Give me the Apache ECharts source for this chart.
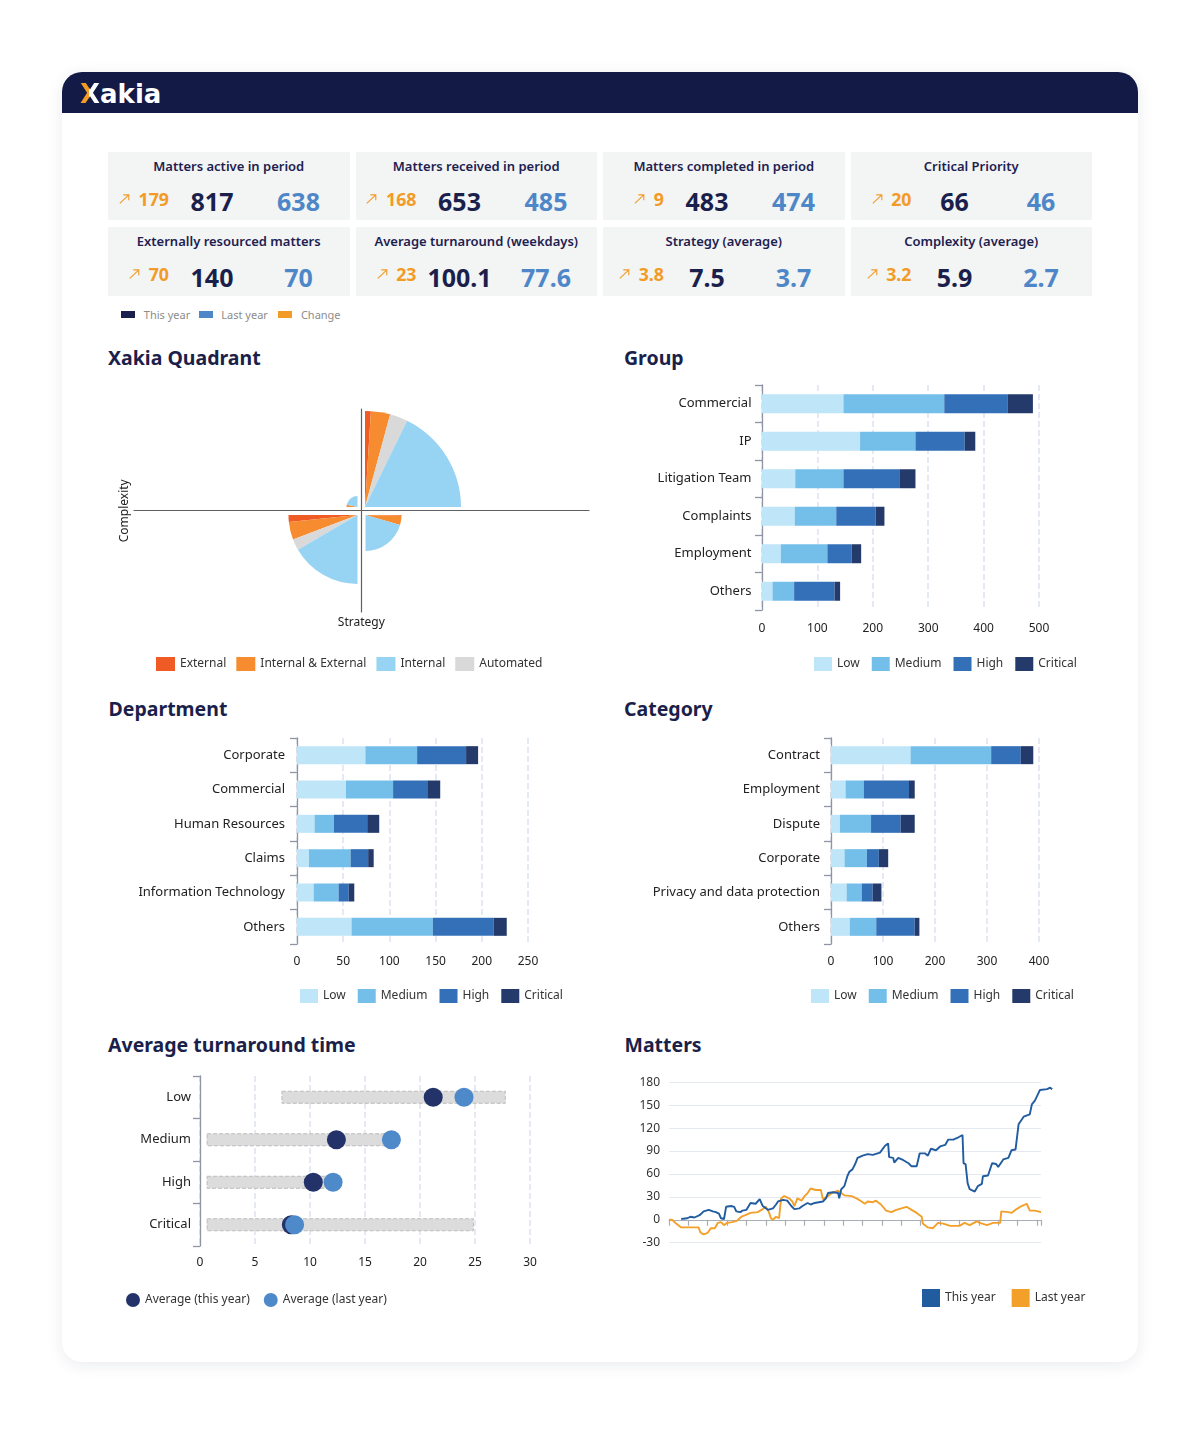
<!DOCTYPE html>
<html>
<head>
<meta charset="utf-8">
<title>Xakia dashboard</title>
<script src="https://cdn.jsdelivr.net/npm/echarts@6.0.0/dist/echarts.min.js"></script>
<style>
  html, body { margin:0; padding:0; background:#ffffff; }
  body { width:1200px; height:1436px; position:relative; overflow:hidden; font-family:'Noto Sans', sans-serif; }
  #card { position:absolute; left:62px; top:72px; width:1076px; height:1290px; background:#fff; border-radius:20px; box-shadow:0 3px 16px rgba(20,30,70,0.09); overflow:hidden; }
  #hdr { position:absolute; left:0; top:0; width:1076px; height:41px; background:#141a46; }
  #logo { position:absolute; left:18px; top:8.8px; font-family:'DejaVu Sans'; font-weight:bold; font-size:26px; line-height:26px; color:#fff; white-space:nowrap; }
  #logo .x { background:linear-gradient(90deg,#f39b22 0%,#f39b22 44%,#ffffff 44%); -webkit-background-clip:text; background-clip:text; color:transparent; }
  .kpi { position:absolute; width:241.5px; height:68.4px; background:#f3f4f4; }
  .kpi .t { position:absolute; left:0; top:8px; width:100%; text-align:center; font-size:13px; line-height:13px; font-weight:600; color:#1d2150; white-space:nowrap; }
  .kpi .c { position:absolute; right:180.5px; top:39.2px; display:flex; align-items:flex-start; }
  .kpi .c svg { margin-top:3px; margin-right:8.6px; }
  .kpi .c span { font-size:17.8px; line-height:17.8px; font-weight:700; color:#f29b26; white-space:nowrap; }
  .kpi .n { position:absolute; width:120px; top:37.8px; text-align:center; font-size:25px; line-height:25px; font-weight:700; white-space:nowrap; }
  .kpi .ty { left:44px; color:#1a1f4b; }
  .kpi .ly { left:130.5px; color:#4e87c8; }
  .klg { position:absolute; top:308px; height:13px; font-size:11px; line-height:13px; color:#8c8c8c; white-space:nowrap; }
  .klg i { position:absolute; left:0; top:3.3px; width:14px; height:7px; }
  .klg span { position:absolute; top:0; }
  .h { position:absolute; font-size:19.5px; line-height:19.5px; font-weight:700; color:#1b1f4a; white-space:nowrap; }
  #chart { position:absolute; left:0; top:0; width:1200px; height:1436px; }
</style>
</head>
<body>
<div id="card"><div id="hdr"><div id="logo"><span class="x">X</span>akia</div></div></div>
<div id="kpis"></div>
<div class="h" style="left:108px;top:347.7px;">Xakia Quadrant</div>
<div class="h" style="left:624px;top:347.7px;">Group</div>
<div class="h" style="left:108.5px;top:698.8px;">Department</div>
<div class="h" style="left:624px;top:698.8px;">Category</div>
<div class="h" style="left:108px;top:1035px;">Average turnaround time</div>
<div class="h" style="left:624.5px;top:1035px;">Matters</div>
<div id="chart"></div>
<script>
// ================= DATA =================
const kpiTitles = ['Matters active in period','Matters received in period','Matters completed in period','Critical Priority',
                   'Externally resourced matters','Average turnaround (weekdays)','Strategy (average)','Complexity (average)'];
const kpiChange   = ['179','168','9','20','70','23','3.8','3.2'];
const kpiThisYear = ['817','653','483','66','140','100.1','7.5','5.9'];
const kpiLastYear = ['638','485','474','46','70','77.6','3.7','2.7'];
const kpiLegend   = ['This year','Last year','Change'];

const quadLegend = ['External','Internal & External','Internal','Automated'];
const sliceOrder = ['External','Internal & External','Automated','Internal'];
const quadTopRight    = [15, 50, 46, 273];
const quadBottomRight = [2, 24, 0, 118];
const quadBottomLeft  = [18, 46, 29, 183];
const quadTopLeft     = [0, 6, 0, 38];

const priorityLevels = ['Low','Medium','High','Critical'];

const groupCats     = ['Commercial','IP','Litigation Team','Complaints','Employment','Others'];
const groupLow      = [147, 177, 60, 59, 34, 19];
const groupMedium   = [182, 100, 87, 75, 84, 39];
const groupHigh     = [114, 89, 102, 71, 44, 73];
const groupCritical = [46, 19, 28, 16, 17, 10];

const deptCats     = ['Corporate','Commercial','Human Resources','Claims','Information Technology','Others'];
const deptLow      = [74, 53, 19, 13, 18, 59];
const deptMedium   = [56, 51, 21, 45, 27, 88];
const deptHigh     = [53, 37, 36, 19, 11, 66];
const deptCritical = [13, 14, 13, 6, 6, 14];

const catCats     = ['Contract','Employment','Dispute','Corporate','Privacy and data protection','Others'];
const catLow      = [153, 28, 17, 26, 30, 36];
const catMedium   = [155, 35, 60, 43, 29, 51];
const catHigh     = [57, 87, 57, 23, 21, 74];
const catCritical = [24, 11, 27, 18, 17, 9];

const turnaroundMin = [7.4, 0.6, 0.6, 0.6];
const turnaroundMax = [27.8, 17.0, 12.0, 24.9];
const avgThisYear   = [21.2, 12.4, 10.3, 8.3];
const avgLastYear   = [24.0, 17.4, 12.1, 8.6];

// [day of period, matters open balance]
const mattersThisYear = [[12,1],[18,2],[21,4],[25,3],[30,6],[34,11],[39,13],[43,11],[46,10],[49,8],[51,2],[54,1],[56,17],[61,18],[64,17],[66,11],[70,10],[72,12],[76,13],[80,22],[85,21],[89,27],[92,18],[97,13],[102,15],[105,20],[107,24],[112,26],[116,25],[120,18],[123,14],[128,15],[131,18],[136,22],[139,20],[143,22],[151,24],[154,28],[156,35],[161,36],[166,35],[167,28],[169,40],[172,44],[175,57],[177,63],[180,66],[183,74],[185,81],[190,84],[195,86],[200,85],[207,88],[212,97],[215,100],[216,82],[220,81],[221,75],[225,81],[230,78],[235,74],[238,70],[243,70],[246,87],[251,87],[254,84],[257,93],[262,91],[266,96],[271,98],[274,105],[279,105],[284,108],[288,111],[289,74],[291,73],[293,48],[295,40],[300,37],[303,44],[307,47],[308,57],[313,58],[317,74],[321,73],[323,69],[328,79],[333,81],[336,91],[340,92],[343,125],[348,135],[354,138],[356,151],[359,156],[364,170],[371,171],[374,173],[376,171]];
const mattersLastYear = [[0,0],[3,0],[7,-5],[12,-10],[20,-10],[29,-10],[31,-17],[34,-19],[38,-17],[41,-11],[45,-11],[48,-4],[51,-3],[54,-7],[57,-4],[62,-3],[67,-1],[71,4],[75,6],[80,9],[87,10],[92,14],[95,17],[98,10],[100,2],[102,0],[105,4],[108,2],[110,28],[113,31],[118,28],[121,24],[123,18],[126,28],[130,25],[133,31],[136,35],[139,41],[144,39],[149,39],[151,27],[156,31],[161,36],[166,38],[169,35],[172,32],[179,31],[184,28],[189,24],[192,21],[195,24],[200,23],[203,25],[208,20],[213,12],[218,10],[223,13],[228,15],[233,17],[238,13],[243,9],[248,4],[249,-5],[254,-10],[259,-11],[264,-4],[269,-5],[276,-8],[285,-8],[290,-4],[295,-7],[302,-2],[305,-4],[312,-7],[318,-4],[325,-4],[326,11],[333,10],[336,9],[341,14],[346,18],[351,21],[354,12],[359,12],[365,10]];
const mattersLegend = ['This year','Last year'];
const turnaroundLegend = ['Average (this year)','Average (last year)'];

// ================= KPI CARDS (HTML) =================
(function(){
  const lefts = [108, 355.5, 603, 850.5], tops = [151.7, 227.3];
  const arrow = '<svg width="11" height="10" viewBox="0 0 11 10"><path d="M0.8 9.4 L9.8 0.9 M4.3 0.9 L9.8 0.9 L9.8 6.2" stroke="#f29b26" stroke-width="1.1" fill="none"/></svg>';
  let html = '';
  kpiTitles.forEach((t, i) => {
    const l = lefts[i % 4], tp = tops[Math.floor(i / 4)];
    html += `<div class="kpi" style="left:${l}px;top:${tp}px"><div class="t">${t}</div>` +
            `<div class="c">${arrow}<span>${kpiChange[i]}</span></div>` +
            `<div class="n ty">${kpiThisYear[i]}</div><div class="n ly">${kpiLastYear[i]}</div></div>`;
  });
  const lgCol = ['#1a1f4b', '#4e87c8', '#f29b26'], lgX = [121.2, 198.7, 278.3];
  kpiLegend.forEach((t, i) => {
    html += `<div class="klg" style="left:${lgX[i]}px"><i style="background:${lgCol[i]}"></i><span style="left:22.6px">${t}</span></div>`;
  });
  document.getElementById('kpis').innerHTML = html;
})();

// ================= CHARTS =================
const F = 'Noto Sans';
const C_LOW = '#bfe5f8', C_MED = '#74bfe9', C_HIGH = '#3470b8', C_CRIT = '#233a6b';
const typeColor = {'External':'#f05a24','Internal & External':'#f68c2f','Internal':'#97d3f3','Automated':'#d9d9d9'};
const AX = '#8f95a4';
const TXT = '#222';

const DAY_MAX = 365, DAY_EXT = 380;
const mattersGrid = {left:669, top:1082.3, width:372, height:160.4};
const grids = [
  {left:134, top:409, width:455, height:203},      // 0 quadrant
  {left:762, top:385, width:277, height:225},      // 1 group
  {left:297, top:738, width:231, height:206},      // 2 department
  {left:831, top:738, width:208, height:206},      // 3 category
  {left:200, top:1076, width:330, height:170},     // 4 turnaround
  mattersGrid,                                     // 5 matters (axes)
  // 6 matters (lines) : same scale per day, but room for the last days that run past the axis
  {left:mattersGrid.left, top:mattersGrid.top, height:mattersGrid.height, width:mattersGrid.width * DAY_EXT / DAY_MAX}
].map(g => Object.assign({containLabel:false, outerBoundsMode:'none'}, g));

const dashedSplit = {show:true, lineStyle:{type:'dashed', color:'#dce2ef', width:1.5}};
function valX(gi, max, interval, margin) {
  return {gridIndex:gi, type:'value', min:0, max:max, interval:interval,
    axisLine:{show:false}, axisTick:{show:false},
    axisLabel:{color:TXT, fontSize:12, fontFamily:F, margin:margin},
    splitLine:dashedSplit};
}
function catY(gi, cats, margin) {
  return {gridIndex:gi, type:'category', data:cats, inverse:true,
    axisLine:{show:true, lineStyle:{color:AX, width:1.3}},
    axisTick:{show:true, length:7, lineStyle:{color:AX, width:1.3}},
    axisLabel:{color:TXT, fontSize:13, fontFamily:F, margin:margin},
    splitLine:{show:false}};
}
function stackSeries(stack, gi, arrs, bw) {
  const cols = [C_LOW, C_MED, C_HIGH, C_CRIT];
  return priorityLevels.map((n, i) => ({
    name:n, type:'bar', stack:stack, xAxisIndex:gi, yAxisIndex:gi, data:arrs[i],
    barWidth:bw, itemStyle:{color:cols[i]}, emphasis:{disabled:true}, silent:true
  }));
}

const xAxes = [
  {gridIndex:0, type:'value', min:-1, max:1, axisLine:{onZero:true, lineStyle:{color:'#606060', width:1.2}},
   axisTick:{show:false}, axisLabel:{show:false}, splitLine:{show:false}},
  valX(1, 500, 100, 13),
  valX(2, 250, 50, 12),
  valX(3, 400, 100, 12),
  valX(4, 30, 5, 11),
  {gridIndex:5, type:'value', min:0, max:DAY_MAX, interval:19,
   axisLine:{show:true, onZero:true, lineStyle:{color:'#a9adb6', width:1.2}},
   axisTick:{show:true, length:6, lineStyle:{color:'#a9adb6', width:1.2}},
   axisLabel:{show:false}, splitLine:{show:false}},
  {gridIndex:6, type:'value', min:0, max:DAY_EXT, show:false}
];
const yAxes = [
  {gridIndex:0, type:'value', min:-1, max:1, axisLine:{onZero:true, lineStyle:{color:'#606060', width:1.2}},
   axisTick:{show:false}, axisLabel:{show:false}, splitLine:{show:false}},
  catY(1, groupCats, 10.5),
  catY(2, deptCats, 12),
  catY(3, catCats, 11),
  catY(4, priorityLevels, 9),
  {gridIndex:5, type:'value', min:-30, max:180, interval:30,
   axisLine:{show:false}, axisTick:{show:false},
   axisLabel:{color:'#333', fontSize:12, fontFamily:F, margin:9},
   splitLine:{show:true, lineStyle:{color:'#e4e8f1', width:1}}},
  {gridIndex:6, type:'value', min:-30, max:180, interval:30, show:false}
];

// quadrant pies
const quadSpecs = [
  {data:quadTopRight,    center:[365, 507],   start:90,  end:0,   cw:true},
  {data:quadBottomRight, center:[365.5, 515], start:0,   end:-90, cw:true},
  {data:quadBottomLeft,  center:[357.5, 515], start:180, end:270, cw:false},
  {data:quadTopLeft,     center:[357.5, 507], start:180, end:90,  cw:true}
];
const sumArr = a => a.reduce((s, v) => s + v, 0);
const maxQuad = Math.max(...quadSpecs.map(q => sumArr(q.data)));
const pieSeries = quadSpecs.map(q => ({
  type:'pie', center:q.center, radius:[0, 96 * sumArr(q.data) / maxQuad],
  startAngle:q.start, endAngle:q.end, clockwise:q.cw, minAngle:0,
  label:{show:false}, labelLine:{show:false}, silent:true, emphasis:{disabled:true},
  itemStyle:{borderWidth:0},
  data:sliceOrder.map((n, i) => ({name:n, value:q.data[i], itemStyle:{color:typeColor[n], borderWidth:0}}))
}));

const series = [].concat(
  pieSeries,
  stackSeries('grp', 1, [groupLow, groupMedium, groupHigh, groupCritical], 19),
  stackSeries('dept', 2, [deptLow, deptMedium, deptHigh, deptCritical], 18),
  stackSeries('cat', 3, [catLow, catMedium, catHigh, catCritical], 18),
  [
    {name:'rangeBase', type:'bar', stack:'ta', xAxisIndex:4, yAxisIndex:4, data:turnaroundMin, barWidth:13,
     itemStyle:{color:'transparent'}, silent:true, emphasis:{disabled:true}},
    {name:'range', type:'bar', stack:'ta', xAxisIndex:4, yAxisIndex:4, barWidth:13,
     data:turnaroundMax.map((v, i) => +(v - turnaroundMin[i]).toFixed(2)),
     itemStyle:{color:'#dcdcdc', borderColor:'#bcbcbc', borderWidth:1, borderType:'dashed'},
     silent:true, emphasis:{disabled:true}},
    {name:turnaroundLegend[0], type:'scatter', xAxisIndex:4, yAxisIndex:4, symbolSize:19,
     data:avgThisYear.map((v, i) => [v, i]), itemStyle:{color:'#233269', opacity:1}, silent:true, z:3},
    {name:turnaroundLegend[1], type:'scatter', xAxisIndex:4, yAxisIndex:4, symbolSize:19,
     data:avgLastYear.map((v, i) => [v, i]), itemStyle:{color:'#4e89ca', opacity:1}, silent:true, z:4},
    {name:mattersLegend[1], type:'line', xAxisIndex:6, yAxisIndex:6, data:mattersLastYear, showSymbol:false,
     lineStyle:{color:'#f3a02a', width:1.9}, itemStyle:{color:'#f3a02a'}, silent:true},
    {name:mattersLegend[0], type:'line', xAxisIndex:6, yAxisIndex:6, data:mattersThisYear, showSymbol:false,
     lineStyle:{color:'#215c9f', width:1.9}, itemStyle:{color:'#215c9f'}, silent:true}
  ]
);

const legendBase = {orient:'horizontal', padding:0, icon:'rect', itemWidth:18, itemHeight:14, itemGap:12,
  selectedMode:false, textStyle:{color:'#333', fontSize:12, fontFamily:F}};
const legends = [
  Object.assign({}, legendBase, {data:quadLegend, left:156, top:657, itemWidth:19, itemGap:10}),
  Object.assign({}, legendBase, {data:priorityLevels, left:814, top:657}),
  Object.assign({}, legendBase, {data:priorityLevels, left:300, top:989}),
  Object.assign({}, legendBase, {data:priorityLevels, left:811, top:989}),
  Object.assign({}, legendBase, {data:turnaroundLegend, left:126, top:1293, icon:'circle', itemWidth:14, itemHeight:14, itemGap:14}),
  Object.assign({}, legendBase, {data:mattersLegend, left:922, top:1289, itemWidth:18, itemHeight:18, itemGap:16})
];

const option = {
  animation:false,
  backgroundColor:'transparent',
  textStyle:{fontFamily:F},
  grid:grids, xAxis:xAxes, yAxis:yAxes, legend:legends, series:series,
  graphic:[
    {type:'text', x:124.7, y:510.8, rotation:Math.PI/2, silent:true,
     style:{text:'Complexity', x:0, y:0, align:'center', verticalAlign:'middle', fill:TXT, font:'12px "Noto Sans"'}},
    {type:'text', x:361.3, y:622.5, silent:true,
     style:{text:'Strategy', x:0, y:0, align:'center', verticalAlign:'middle', fill:TXT, font:'12px "Noto Sans"'}}
  ]
};
const chart = echarts.init(document.getElementById('chart'), null, {renderer:'canvas'});
chart.setOption(option);
</script>
</body>
</html>
